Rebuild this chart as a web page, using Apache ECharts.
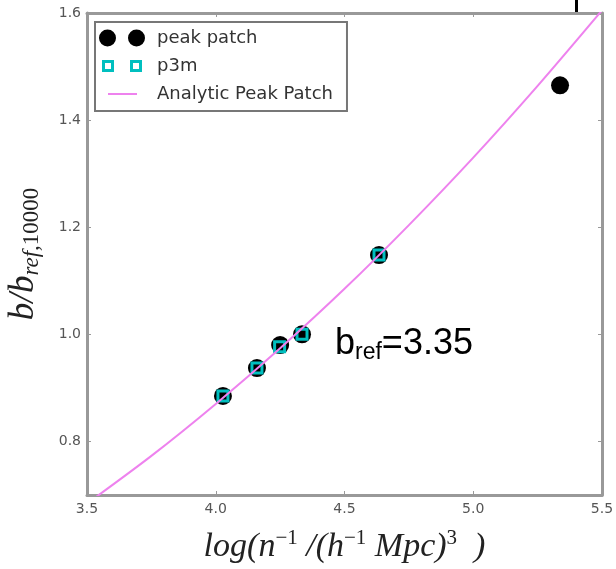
<!DOCTYPE html>
<html>
<head>
<meta charset="utf-8">
<script src="https://cdn.jsdelivr.net/npm/echarts@6/dist/echarts.min.js"></script>
<style>
  html, body { margin: 0; padding: 0; background: #fff; }
  #main { width: 616px; height: 569px; }
</style>
</head>
<body>
<div id="main"></div>
<script>
var myChart = echarts.init(document.getElementById('main'));

// peak patch (black circles)
const peakX = [4.028, 4.160, 4.250, 4.335, 4.634, 5.337];
const peakY = [0.885, 0.937, 0.980, 1.000, 1.148, 1.465];
// p3m (cyan open squares)
const p3mX = [4.028, 4.160, 4.248, 4.335, 4.634];
const p3mY = [0.885, 0.937, 0.977, 1.000, 1.148];
// analytic peak patch curve
const analyticX = [3.5, 3.75, 4.0, 4.25, 4.5, 4.75, 5.0, 5.25, 5.5];
const analyticY = [0.684, 0.773, 0.870, 0.974, 1.085, 1.204, 1.330, 1.464, 1.605];
// tick labels
const xTicks = [3.5, 4.0, 4.5, 5.0, 5.5];
const yTicks = [0.8, 1.0, 1.2, 1.4, 1.6];

const frameColor = '#999';
const cyan = '#00bfbf';
const violet = '#ee82ee';

function zip(xs, ys) {
  return xs.map(function (x, i) { return [x, ys[i]]; });
}

// legend icons: two markers like matplotlib (numpoints=2)
const box = 'M0,0 L0,0.01 M46,17 L46,16.99 ';
const circlesIcon = 'path://' + box +
  'M0,8.5 A8.5,8.5 0 1,0 17,8.5 A8.5,8.5 0 1,0 0,8.5 Z ' +
  'M29,8.5 A8.5,8.5 0 1,0 46,8.5 A8.5,8.5 0 1,0 29,8.5 Z';
const squaresIcon = 'path://' + box +
  'M3,2.5 L15,2.5 L15,14.5 L3,14.5 Z M6,5.5 L6,11.5 L12,11.5 L12,5.5 Z ' +
  'M31,2.5 L43,2.5 L43,14.5 L31,14.5 Z M34,5.5 L34,11.5 L40,11.5 L40,5.5 Z';
const lineIcon = 'path://' + box + 'M9,7.5 L38,7.5 L38,9.5 L9,9.5 Z';

const tickStyle = { inside: true, length: 4, lineStyle: { color: frameColor, width: 1 } };
const lineStyleFrame = { show: true, onZero: false, lineStyle: { color: frameColor, width: 3 } };
const labelStyle = { fontFamily: 'DejaVu Sans', fontSize: 14, color: '#555' };

const option = {
  backgroundColor: '#fff',
  animation: false,
  grid: { left: 87, right: 14, top: 13, bottom: 74, outerBoundsMode: 'none' },
  legend: {
    orient: 'vertical',
    left: 95,
    top: 22,
    padding: [7, 14, 8, 4],
    itemGap: 10,
    itemWidth: 46,
    itemHeight: 17,
    selectedMode: false,
    backgroundColor: '#fff',
    borderColor: '#777',
    borderWidth: 2,
    borderRadius: 0,
    textStyle: { fontFamily: 'DejaVu Sans', fontSize: 18, color: '#333', padding: [0, 0, 0, 7] },
    data: [
      { name: 'peak patch', icon: circlesIcon, itemStyle: { color: '#000', borderWidth: 0 } },
      { name: 'p3m', icon: squaresIcon, itemStyle: { color: cyan, borderWidth: 0 } },
      { name: 'Analytic Peak Patch', icon: lineIcon, itemStyle: { color: violet, borderWidth: 0 } }
    ]
  },
  xAxis: [
    {
      type: 'value', position: 'bottom',
      min: 3.5, max: 5.5, interval: 0.5,
      axisLine: lineStyleFrame,
      axisTick: tickStyle,
      axisLabel: Object.assign({
        margin: 7, showMinLabel: true, showMaxLabel: true,
        customValues: xTicks,
        formatter: function (v) { return v.toFixed(1); }
      }, labelStyle),
      splitLine: { show: false },
      name: '{m|log(n}{p|\u22121}{m| /(h}{p|\u22121}{m| Mpc)}{p|3}{m|  )}',
      nameLocation: 'middle',
      nameGap: 33,
      nameTextStyle: {
        rich: {
          m: { fontFamily: 'Liberation Serif', fontStyle: 'italic', fontSize: 34, lineHeight: 38, color: '#222' },
          p: { fontFamily: 'Liberation Serif', fontSize: 21, lineHeight: 23, verticalAlign: 'top', color: '#222' }
        }
      }
    },
    {
      type: 'value', position: 'top',
      min: 3.5, max: 5.5, interval: 0.5,
      axisLine: lineStyleFrame,
      axisTick: tickStyle,
      axisLabel: { show: false },
      splitLine: { show: false }
    }
  ],
  yAxis: [
    {
      type: 'value', position: 'left',
      min: 0.7, max: 1.6,
      axisLine: lineStyleFrame,
      axisTick: Object.assign({ customValues: yTicks }, tickStyle),
      axisLabel: Object.assign({
        margin: 6, showMinLabel: true, showMaxLabel: true,
        customValues: yTicks,
        formatter: function (v) { return v.toFixed(1); }
      }, labelStyle),
      splitLine: { show: false },
      name: '{m|b/b}{s|ref,}{d|10000}',
      nameLocation: 'middle',
      nameRotate: 90,
      nameGap: 44,
      nameTextStyle: {
        rich: {
          m: { fontFamily: 'Liberation Serif', fontStyle: 'italic', fontSize: 35, lineHeight: 38, color: '#222' },
          s: { fontFamily: 'Liberation Serif', fontStyle: 'italic', fontSize: 23, lineHeight: 25, verticalAlign: 'bottom', color: '#222' },
          d: { fontFamily: 'Liberation Serif', fontSize: 23, lineHeight: 25, verticalAlign: 'bottom', color: '#222' }
        }
      }
    },
    {
      type: 'value', position: 'right',
      min: 0.7, max: 1.6,
      axisLine: lineStyleFrame,
      axisTick: Object.assign({ customValues: yTicks }, tickStyle),
      axisLabel: { show: false },
      splitLine: { show: false }
    }
  ],
  series: [
    {
      name: 'peak patch',
      type: 'scatter',
      symbol: 'circle',
      symbolSize: 18,
      itemStyle: { color: '#000', opacity: 1 },
      z: 2,
      data: zip(peakX, peakY)
    },
    {
      name: 'p3m',
      type: 'scatter',
      symbol: 'rect',
      symbolSize: 10,
      itemStyle: { color: 'rgba(0,0,0,0)', borderColor: cyan, borderWidth: 3, opacity: 1 },
      z: 3,
      data: zip(p3mX, p3mY)
    },
    {
      name: 'Analytic Peak Patch',
      type: 'line',
      smooth: 0.3,
      showSymbol: false,
      symbol: 'none',
      clip: true,
      lineStyle: { color: violet, width: 2 },
      itemStyle: { color: violet },
      z: 4,
      data: zip(analyticX, analyticY)
    }
  ],
  graphic: [
    {
      type: 'text',
      left: 335,
      top: 326,
      style: {
        text: '{m|b}{s|ref}{m|=3.35}',
        rich: {
          m: { fontFamily: 'Liberation Sans', fontSize: 36, lineHeight: 40, fill: '#000' },
          s: { fontFamily: 'Liberation Sans', fontSize: 23, lineHeight: 26, verticalAlign: 'bottom', fill: '#000' }
        }
      }
    },
    {
      // clipped descender of a heading above the plot
      type: 'rect',
      shape: { x: 575, y: 0, width: 3, height: 15 },
      style: { fill: '#000' }
    }
  ]
};

myChart.setOption(option);
</script>
</body>
</html>
